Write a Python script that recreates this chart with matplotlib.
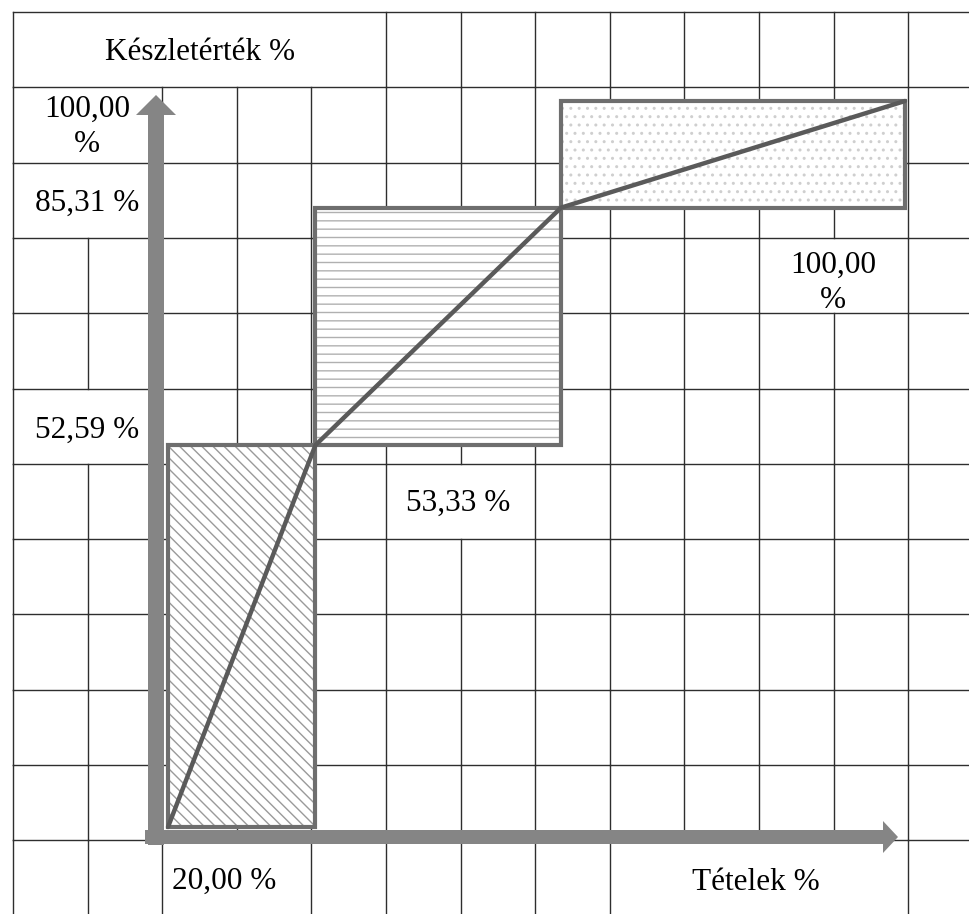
import matplotlib
matplotlib.use("Agg")
import matplotlib.pyplot as plt
from matplotlib.patches import Rectangle

plt.rcParams['font.family'] = ['Liberation Serif', 'DejaVu Serif']
plt.rcParams['hatch.linewidth'] = 1.0

# ABC-elemzés adatai (kumulált %)
tetelek = [0.0, 20.00, 53.33, 100.00]
keszletertek = [0.0, 52.59, 85.31, 100.00]
mintak = ['\\\\\\', '--', '..']
minta_szin = ['#9a9a9a', '#b0b0b0', '#cfcfcf']


def szazalek(v):
    return ("%.2f" % v).replace('.', ',') + " %"


fig = plt.figure(figsize=(9.7, 9.14), dpi=100)

# háttér: táblázatrács pixelben
bg = fig.add_axes([0, 0, 1, 1])
bg.set_xlim(0, 970)
bg.set_ylim(914, 0)
bg.axis('off')

oszlop_x = [13 + 74.6 * k for k in range(13)]
sor_y = [12 + 75.3 * k for k in range(13)]
# összevont cellák: sor -> rejtett függőleges vonalak indexei
rejtett = {0: [1, 2, 3, 4], 1: [1], 2: [1], 3: [11], 5: [1], 6: [6], 11: [3, 9, 10, 11]}

racs_szin = '#2e2e2e'
for r in range(12):
    y0, y1 = sor_y[r], min(sor_y[r + 1], 914)
    for k, x in enumerate(oszlop_x):
        if k in rejtett.get(r, []):
            continue
        bg.plot([x, x], [y0, y1], color=racs_szin, lw=1.0, zorder=1)
for y in sor_y[:12]:
    bg.plot([13, 970], [y, y], color=racs_szin, lw=1.0, zorder=1)

# tengely-nyilak
nyil_szin = '#858585'
bg.arrow(156, 845, 0, -730, width=16, head_width=40, head_length=20,
         length_includes_head=False, color=nyil_szin, zorder=5, lw=0)
bg.arrow(145, 837, 738, 0, width=14, head_width=32, head_length=15,
         length_includes_head=False, color=nyil_szin, zorder=5, lw=0)

# szövegek
fs = 22.5
bg.text(200, 52, "Készletérték %", fontsize=fs, ha='center', va='center', zorder=6)
bg.text(87, 127, szazalek(keszletertek[3]).replace(' ', '\n'), fontsize=fs,
        ha='center', va='center', linespacing=1.25, zorder=6)
bg.text(87, 203, szazalek(keszletertek[2]), fontsize=fs, ha='center', va='center', zorder=6)
bg.text(87, 430, szazalek(keszletertek[1]), fontsize=fs, ha='center', va='center', zorder=6)
bg.text(458, 503, szazalek(tetelek[2]), fontsize=fs, ha='center', va='center', zorder=6)
bg.text(833, 283, szazalek(tetelek[3]).replace(' ', '\n'), fontsize=fs,
        ha='center', va='center', linespacing=1.25, zorder=6)
bg.text(224, 881, szazalek(tetelek[1]), fontsize=fs, ha='center', va='center', zorder=6)
bg.text(756, 882, "Tételek %", fontsize=fs, ha='center', va='center', zorder=6)

# a diagram adatai százalékos koordinátákban
x0, x1 = 168, 905
y0, y1 = 827, 101
ax = fig.add_axes([x0 / 970, (914 - y0) / 914, (x1 - x0) / 970, (y0 - y1) / 914])
ax.set_xlim(0, 100)
ax.set_ylim(0, 100)
ax.axis('off')
ax.patch.set_alpha(0)

for i in range(3):
    xa, xb = tetelek[i], tetelek[i + 1]
    ya, yb = keszletertek[i], keszletertek[i + 1]
    ax.add_patch(Rectangle((xa, ya), xb - xa, yb - ya, facecolor='white',
                           edgecolor='none', zorder=2, clip_on=False))
    ax.add_patch(Rectangle((xa, ya), xb - xa, yb - ya, facecolor='none',
                           edgecolor=minta_szin[i], hatch=mintak[i], lw=0,
                           zorder=3, clip_on=False))
    ax.add_patch(Rectangle((xa, ya), xb - xa, yb - ya, facecolor='none',
                           edgecolor='#6e6e6e', lw=3.0, zorder=4, clip_on=False))

ax.plot(tetelek, keszletertek, color='#5a5a5a', lw=3.2, zorder=5,
        solid_capstyle='round', clip_on=False)

fig.savefig("out.png", dpi=100)
